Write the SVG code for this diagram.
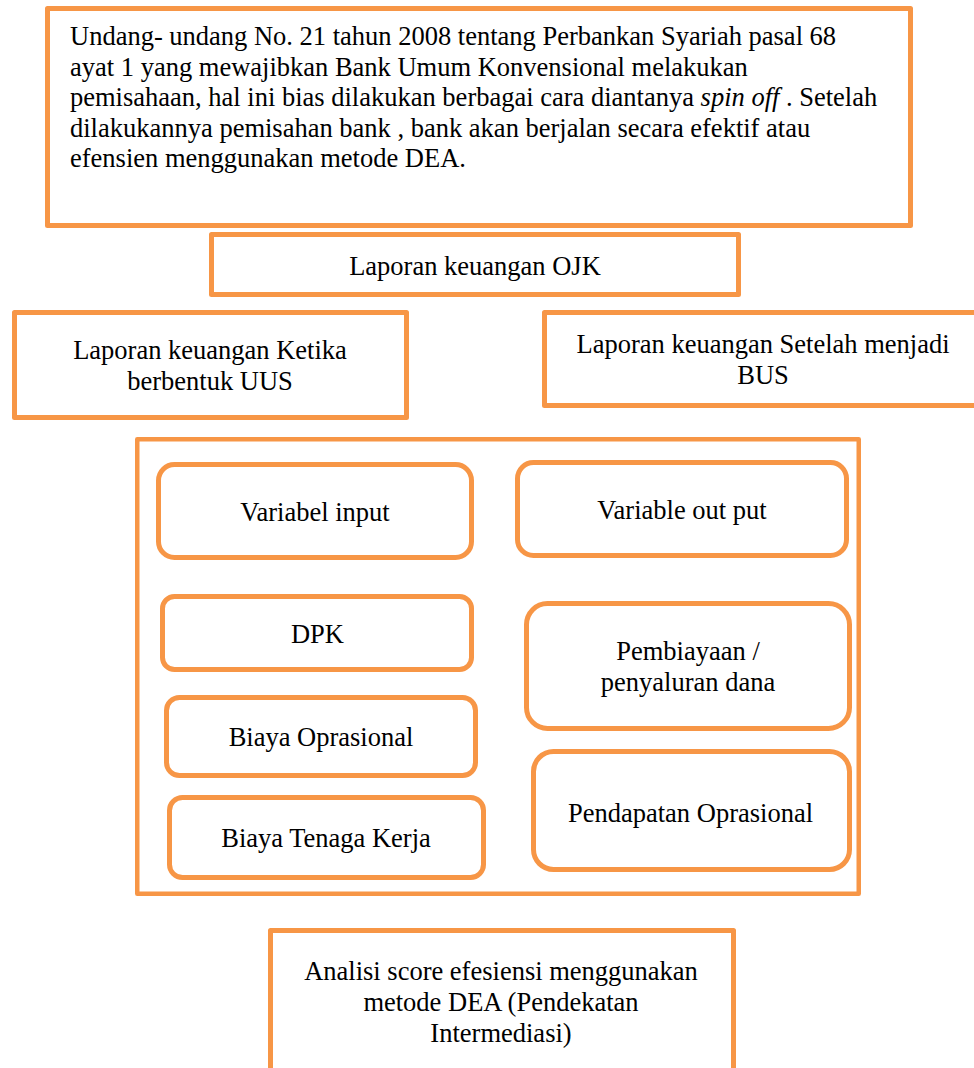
<svg xmlns="http://www.w3.org/2000/svg" width="974" height="1068" viewBox="0 0 974 1068">
<style>
.box{fill:#ffffff;stroke:#F79646;stroke-width:5;stroke-linejoin:round}
.t{font-family:"Liberation Serif","Times New Roman",serif;font-size:26.5px;fill:#000000}
.c{text-anchor:middle}
</style>
<rect x="0" y="0" width="974" height="1068" fill="#ffffff"/>
<g id="node-law">
<rect class="box" x="47.5" y="8.5" width="863" height="217"/>
<text class="t" x="70" y="45">Undang- undang No. 21 tahun 2008 tentang Perbankan Syariah pasal 68</text>
<text class="t" x="70" y="75.5">ayat 1 yang mewajibkan Bank Umum Konvensional melakukan</text>
<text class="t" x="70" y="106">pemisahaan, hal ini bias dilakukan berbagai cara diantanya <tspan font-style="italic">spin off</tspan> . Setelah</text>
<text class="t" x="70" y="136.5">dilakukannya pemisahan bank , bank akan berjalan secara efektif atau</text>
<text class="t" x="70" y="167">efensien menggunakan metode DEA.</text>
</g>
<g id="node-ojk">
<rect class="box" x="211.5" y="234.5" width="527" height="60"/>
<text class="t c" x="475" y="275">Laporan keuangan OJK</text>
</g>
<g id="node-uus">
<rect class="box" x="14.5" y="312.5" width="392" height="105"/>
<text class="t c" x="210" y="359">Laporan keuangan Ketika</text>
<text class="t c" x="210" y="390">berbentuk UUS</text>
</g>
<g id="node-bus">
<rect class="box" x="544.5" y="312.5" width="440" height="93"/>
<text class="t c" x="763" y="353">Laporan keuangan Setelah menjadi</text>
<text class="t c" x="763" y="384">BUS</text>
</g>
<g id="node-container">
<rect class="box" x="137.25" y="439.25" width="721.5" height="454.5" style="stroke-width:4.5"/>
</g>
<g id="node-var-input">
<rect class="box" x="158.5" y="464.5" width="313" height="93" rx="16" ry="16"/>
<text class="t c" x="315" y="521">Variabel input</text>
</g>
<g id="node-var-output">
<rect class="box" x="517.5" y="462.5" width="329" height="93" rx="16" ry="16"/>
<text class="t c" x="682" y="519">Variable out put</text>
</g>
<g id="node-dpk">
<rect class="box" x="162.5" y="596.5" width="309" height="73" rx="12" ry="12"/>
<text class="t c" x="317.5" y="643">DPK</text>
</g>
<g id="node-pembiayaan">
<rect class="box" x="526.5" y="603.5" width="323" height="125" rx="21" ry="21"/>
<text class="t c" x="688" y="660">Pembiayaan /</text>
<text class="t c" x="688" y="691">penyaluran dana</text>
</g>
<g id="node-biaya-op">
<rect class="box" x="166.5" y="697.5" width="309" height="78" rx="13" ry="13"/>
<text class="t c" x="321" y="746">Biaya Oprasional</text>
</g>
<g id="node-pendapatan">
<rect class="box" x="533.5" y="751.5" width="316" height="118" rx="20" ry="20"/>
<text class="t c" x="690.5" y="822">Pendapatan Oprasional</text>
</g>
<g id="node-biaya-tk">
<rect class="box" x="169.5" y="797.5" width="314" height="80" rx="13" ry="13"/>
<text class="t c" x="326" y="847">Biaya Tenaga Kerja</text>
</g>
<g id="node-analisis">
<rect class="box" x="270.5" y="930.5" width="463" height="160"/>
<text class="t c" x="501" y="980">Analisi score efesiensi menggunakan</text>
<text class="t c" x="501" y="1011">metode DEA (Pendekatan</text>
<text class="t c" x="501" y="1042">Intermediasi)</text>
</g>
<g id="connectors"></g>
</svg>
